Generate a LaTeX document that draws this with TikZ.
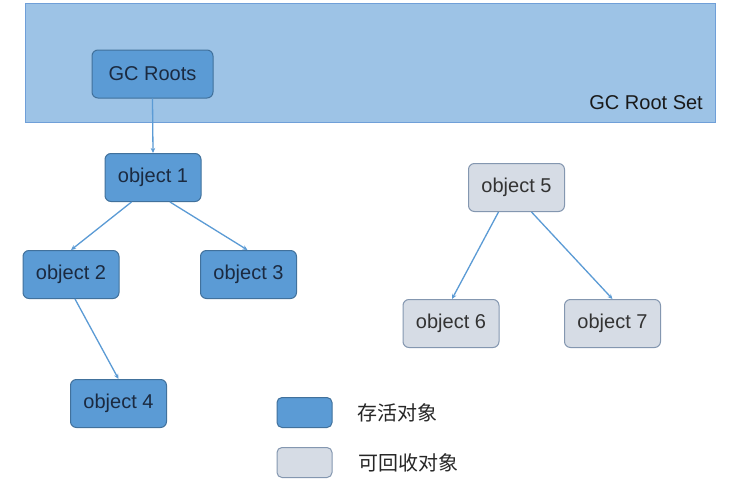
\documentclass[tikz,border=0pt]{standalone}
\usepackage{fontspec}
\setmainfont{Liberation Sans}
\newfontfamily\cjk{Noto Sans CJK SC}
\usetikzlibrary{arrows.meta}
\definecolor{setfill}{HTML}{9DC3E6}
\definecolor{setdraw}{HTML}{6F9FD8}
\definecolor{livefill}{HTML}{5B9BD5}
\definecolor{livedraw}{HTML}{41719C}
\definecolor{deadfill}{HTML}{D6DCE5}
\definecolor{deaddraw}{HTML}{8497B0}
\definecolor{linkcol}{HTML}{5B9BD5}
\definecolor{txtdark}{HTML}{1B2A40}
\tikzset{
  livebox/.style={draw=livedraw, fill=livefill, line width=1pt, rounded corners=6pt,
    minimum width=96pt, minimum height=48pt, inner sep=0pt, text=txtdark,
    font=\fontsize{20}{24}\selectfont},
  deadbox/.style={draw=deaddraw, fill=deadfill, line width=1pt, rounded corners=6pt,
    minimum width=96pt, minimum height=48pt, inner sep=0pt, text=black!80,
    font=\fontsize{20}{24}\selectfont},
  keybox/.style={line width=1pt, rounded corners=5pt, minimum width=55pt, minimum height=30pt, inner sep=0pt},
  keytext/.style={anchor=west, inner sep=0pt, text=black!85, font=\cjk\fontsize{20}{24}\selectfont},
  link/.style={draw=linkcol, line width=1.3pt, -{Stealth[length=5pt,width=4.5pt]}}
}
\begin{document}
\begin{tikzpicture}[x=1pt,y=-1pt]
\useasboundingbox (0,0) rectangle (732,482);
\fill[white] (0,0) rectangle (732,482);
\node[draw=setdraw, fill=setfill, line width=1pt, minimum width=690pt, minimum height=119pt, inner sep=0pt] (rootset) at (370,62.5) {};
\node[anchor=base east, inner sep=0pt, text=black!90, font=\fontsize{20}{24}\selectfont] (setlabel) at (703,109) {GC Root Set};
\node[livebox, minimum width=121pt] (roots) at (152.5,74) {GC Roots};
\node[livebox] (o1) at (153,177.5) {object 1};
\node[livebox] (o2) at (71,274.5) {object 2};
\node[livebox] (o3) at (248.5,274.5) {object 3};
\node[livebox] (o4) at (118.5,403.5) {object 4};
\node[deadbox] (o5) at (516.5,187.5) {object 5};
\node[deadbox] (o6) at (451,323.5) {object 6};
\node[deadbox] (o7) at (612.5,323.5) {object 7};
\node[keybox, draw=livedraw, fill=livefill] (k1) at (304.5,412.5) {};
\node[keybox, draw=deaddraw, fill=deadfill] (k2) at (304.5,462.5) {};
\node[keytext] (t1) at (357,412.5) {存活对象};
\node[keytext] (t2) at (358,462.5) {可回收对象};
\draw[link] (roots.south) -- (o1.north);
\draw[link] (o1.south west) ++(27pt,0) coordinate (a1) (a1) -- (o2.north);
\draw[link] (o1.south) ++(17pt,0) coordinate (a2) (a2) -- ([xshift=-1pt]o3.north);
\draw[link] ([xshift=4pt]o2.south) -- (o4.north);
\draw[link] ([xshift=-18pt]o5.south) -- ([xshift=1pt]o6.north);
\draw[link] ([xshift=15pt]o5.south) -- (o7.north);
\end{tikzpicture}
\end{document}
